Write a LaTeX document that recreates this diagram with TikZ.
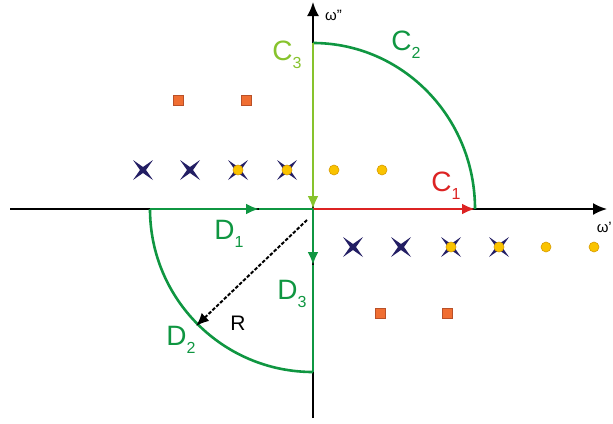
\documentclass[tikz,border=0pt]{standalone}
\usepackage{fontspec}
\setmainfont{Liberation Sans}
\usetikzlibrary{arrows.meta,positioning}
\definecolor{cgreen}{RGB}{15,150,65}
\definecolor{clight}{RGB}{135,195,45}
\definecolor{cred}{RGB}{220,35,35}
\definecolor{cnavy}{RGB}{35,30,100}
\definecolor{cyellow}{RGB}{250,195,0}
\definecolor{cyedge}{RGB}{215,155,0}
\definecolor{corange}{RGB}{240,110,50}
\definecolor{coedge}{RGB}{185,80,40}
\newcommand{\sub}[1]{\raisebox{-0.55ex}{\fontsize{16}{18}\selectfont #1}}
\tikzset{
    axis/.style={
        -{Latex[length=14pt,width=12pt]},
        line width=2pt,
        black
    },
    path/.style={
        line width=2.6pt,
        cgreen
    },
    patharrow/.style={
        path,
        -{Latex[length=13pt,width=11pt]}
    },
    lbl/.style={
        font=\fontsize{28}{30}\selectfont,
        inner sep=0pt
    },
    axlbl/.style={
        font=\fontsize{15}{17}\selectfont,
        inner sep=0pt
    },
    dot/.style={
        circle,
        draw=cyedge,
        fill=cyellow,
        line width=0.6pt,
        minimum size=10pt,
        inner sep=0pt
    },
    sq/.style={
        rectangle,
        draw=coedge,
        fill=corange,
        line width=0.6pt,
        minimum size=10pt,
        inner sep=0pt
    },
    pole/.pic={
        \fill[cnavy] (-10,-10) -- (0,-3) -- (10,-10) -- (3,0) -- (10,10)
            -- (0,3) -- (-10,10) -- (-3,0) -- cycle;
    }
}

\begin{document}
\begin{tikzpicture}[x=1pt,y=-1pt]
\useasboundingbox (0,0) rectangle (613,423);

% axes
\coordinate (O) at (313,209);
\coordinate (xl) at (10,209);
\coordinate (xr) at (607,209);
\coordinate (yb) at (313,418);
\coordinate (yt) at (313,2);
\draw[axis] (xl) -- (xr);
\draw[axis] (yb) -- (yt);
\node[axlbl, anchor=west] (wii) at (325,15) {ω''};
\node[axlbl, anchor=east] (wi) at (612,227) {ω'};

% contour points
\coordinate (ctop) at (313,43);
\coordinate (cend) at (475,209);
\coordinate (dleft) at (150,209);
\coordinate (dbot) at (313,372);
\coordinate (d1mid) at (259,209);
\coordinate (d3mid) at (313,265);
\coordinate (rs) at (307,220);
\coordinate (re) at (196,326);

% C contour
\draw[patharrow, cred] (O) -- (cend);
\draw[path] (cend) arc[start angle=0, end angle=-90, x radius=162, y radius=166];
\draw[patharrow, clight] (ctop) -- (O);

% D contour
\draw[patharrow] (dleft) -- (d1mid);
\draw[path] (d1mid) -- (O);
\draw[patharrow] (O) -- (d3mid);
\draw[path] (d3mid) -- (dbot);
\draw[path] (dbot) arc[start angle=90, end angle=180, radius=163];

% radius
\draw[-{Latex[length=13pt,width=11pt]}, line width=2pt, dash pattern=on 3.5pt off 1.8pt] (rs) -- (re);

% labels
\node[lbl, text=clight] (c3) at (287,55) {C\sub{3}};
\node[lbl, text=cgreen] (c2) at (406,45) {C\sub{2}};
\node[lbl, text=cred] (c1) at (446,186) {C\sub{1}};
\node[lbl, text=cgreen] (d1) at (229,234) {D\sub{1}};
\node[lbl, text=cgreen] (d3) at (292,294) {D\sub{3}};
\node[lbl, text=cgreen] (d2) at (181,340) {D\sub{2}};
\node[font=\fontsize{21}{23}\selectfont, inner sep=0pt] (r) at (238,323) {R};

% poles and zeros
\foreach \x in {143,190,238,287} \pic at (\x,170) {pole};
\foreach \x in {353,401,451,499} \pic at (\x,247) {pole};
\foreach \x/\n in {238/a,287/b,334/c,382/d} \node[dot] (u\n) at (\x,170) {};
\foreach \x/\n in {451/a,499/b,546/c,594/d} \node[dot] (l\n) at (\x,247) {};
\node[sq] (s1) at (178,100) {};
\node[sq] (s2) at (246,100) {};
\node[sq] (s3) at (380,313) {};
\node[sq] (s4) at (447,313) {};

\end{tikzpicture}
\end{document}
